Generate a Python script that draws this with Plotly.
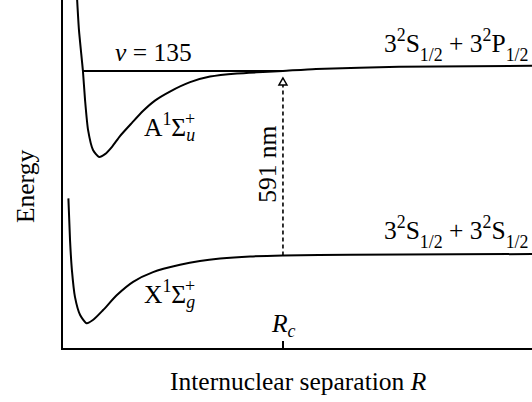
import plotly.graph_objects as go

# ---- data (R in arbitrary units, Energy in arbitrary units) ----
R_A = [0.58, 0.68, 0.85, 0.94, 1.07, 1.28, 1.54, 1.79, 2.09, 2.43, 2.94, 3.41, 3.92, 4.56, 5.42, 6.27, 7.42, 8.53, 9.38, 10.79, 14.33, 20.0]
E_A = [10.29, 9.14, 7.96, 7.13, 6.26, 5.69, 5.49, 5.57, 5.78, 6.09, 6.47, 6.81, 7.11, 7.37, 7.64, 7.80, 7.89, 7.93, 7.96, 8.02, 8.08, 8.11]

R_X = [0.23, 0.30, 0.38, 0.51, 0.73, 1.01, 1.29, 1.71, 2.30, 2.99, 3.84, 4.99, 5.84, 6.70, 7.98, 9.38, 12.24, 20.0]
E_X = [4.30, 3.10, 2.24, 1.47, 0.95, 0.71, 0.81, 1.09, 1.52, 1.90, 2.18, 2.39, 2.50, 2.57, 2.63, 2.66, 2.68, 2.70]

R_c = 9.38
v_level = 7.96          # v = 135 level
v_start = 0.85
E_X_at_Rc = 2.66
arrow_top = 7.76

FONT = "Liberation Serif"
FS = 25.5
BLACK = "#000000"

fig = go.Figure()
fig.add_trace(go.Scatter(x=R_A, y=E_A, mode="lines", line=dict(color=BLACK, width=2, shape="spline", smoothing=0.6), hoverinfo="skip"))
fig.add_trace(go.Scatter(x=R_X, y=E_X, mode="lines", line=dict(color=BLACK, width=2, shape="spline", smoothing=0.6), hoverinfo="skip"))
fig.add_trace(go.Scatter(x=[v_start, R_c], y=[v_level, v_level], mode="lines", line=dict(color=BLACK, width=2), hoverinfo="skip"))
fig.add_trace(go.Scatter(x=[R_c, R_c], y=[E_X_at_Rc, arrow_top], mode="lines", line=dict(color=BLACK, width=1.6, dash="4px,3px"), hoverinfo="skip"))

# hollow arrow head (pixel-sized, anchored at arrow tip)
fig.add_shape(type="path", xref="x", yref="y", xsizemode="pixel", ysizemode="pixel",
              xanchor=R_c, yanchor=arrow_top, path="M0,0 L-4,-7 L4,-7 Z",
              line=dict(color=BLACK, width=1.5), fillcolor="white", layer="above")

ann = []
def A(text, x, y, xanchor="center", yanchor="middle", size=FS, angle=0, xref="x", yref="y", xshift=0, yshift=0):
    ann.append(dict(text=text, x=x, y=y, xref=xref, yref=yref, xanchor=xanchor, yanchor=yanchor,
                    showarrow=False, textangle=angle, xshift=xshift, yshift=yshift,
                    font=dict(family=FONT, size=size, color=BLACK)))

SUB = "<sub><span style='baseline-shift:-4px'>1/2</span></sub>"
A("<i>v</i> = 135", 3.86, 8.50)
A("A<sup>1</sup>Σ<sub><i>u</i></sub>", 3.37, 6.35, xanchor="left")
A("+", 5.42, 6.35, size=18, yshift=8)
A("X<sup>1</sup>Σ<sub><i>g</i></sub>", 3.37, 1.55, xanchor="left")
A("+", 5.42, 1.55, size=18, yshift=8)
A("3<sup>2</sup>S" + SUB + " + 3<sup>2</sup>P" + SUB, 19.9, 8.71, xanchor="right")
A("3<sup>2</sup>S" + SUB + " + 3<sup>2</sup>S" + SUB, 19.9, 3.33, xanchor="right")
A("591 nm", 8.74, 5.29, angle=-90)
A("<i>R</i><sub><i>c</i></sub>", 9.42, 0.66)
A("Energy", -0.081, 0.4626, xref="paper", yref="paper", angle=-90)
A("Internuclear separation <i>R</i>", 0.503, -0.095, xref="paper", yref="paper")

fig.update_layout(
    width=532, height=402,
    margin=dict(l=63, r=0, t=0, b=54),
    plot_bgcolor="white", paper_bgcolor="white",
    showlegend=False,
    annotations=ann,
    xaxis=dict(range=[0, 20], showline=True, linecolor=BLACK, linewidth=2, showgrid=False, zeroline=False,
               tickvals=[R_c], ticks="inside", ticklen=7, tickwidth=1.5, tickcolor=BLACK, showticklabels=False),
    yaxis=dict(range=[0, 10], showline=True, linecolor=BLACK, linewidth=2, showgrid=False, zeroline=False,
               showticklabels=False, ticks=""),
)
fig.write_html("out.html", config={"displayModeBar": False},
               post_script="document.body.style.margin='0';document.body.style.overflow='hidden';")
